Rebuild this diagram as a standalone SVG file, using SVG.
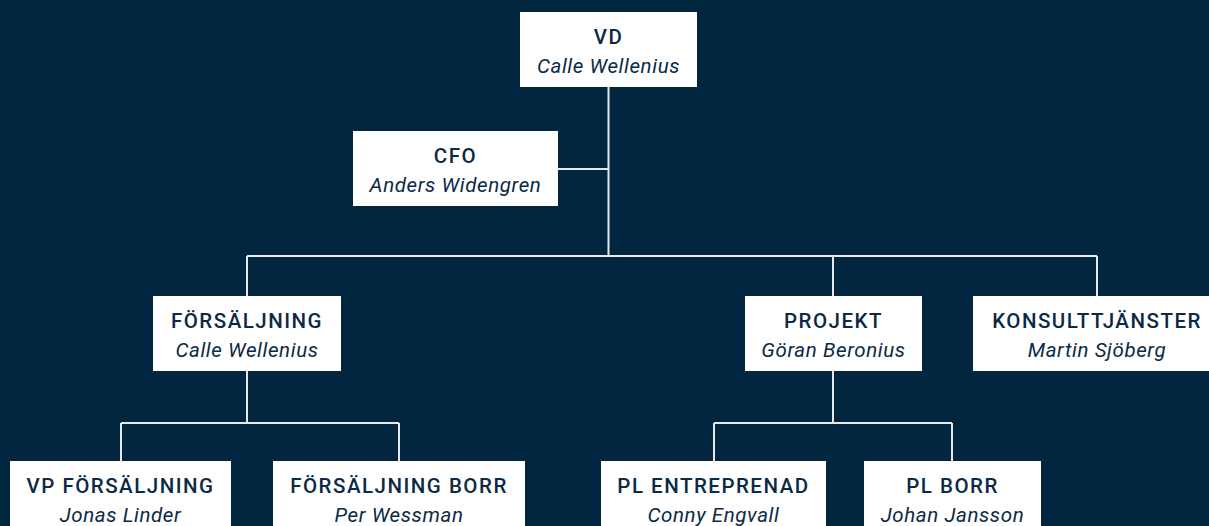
<svg xmlns="http://www.w3.org/2000/svg" width="1209" height="526" viewBox="0 0 1209 526">
<style>
.box{fill:#ffffff}
.t{font-family:Roboto,"Liberation Sans",sans-serif;font-weight:500;font-size:20.5px;letter-spacing:1.5px;fill:#0b2a45;text-anchor:middle}
.n{font-family:Roboto,"Liberation Sans",sans-serif;font-style:italic;font-size:20.5px;letter-spacing:0.6px;fill:#0b2a45;text-anchor:middle}
.c{fill:none;stroke:#e8e8e8;stroke-width:2}
</style>
<rect width="1209" height="526" fill="#022640"/>
<g id="connectors">
<path class="c" d="M608.5 87V256M558 169H608.5M247 256H1097M247 256V296M833 256V296M1097 256V296"/>
<path class="c" d="M247 371V423M121 423H399M121 423V461M399 423V461"/>
<path class="c" d="M833 371V423M714 423H952M714 423V461M952 423V461"/>
</g>
<g id="vd"><rect class="box" x="520" y="12" width="177" height="75"/><text class="t" x="608.5" y="44">VD</text><text class="n" x="608.5" y="72.5">Calle Wellenius</text></g>
<g id="cfo"><rect class="box" x="353" y="131" width="205" height="75"/><text class="t" x="455.5" y="163">CFO</text><text class="n" x="455.5" y="191.5">Anders Widengren</text></g>
<g id="forsaljning"><rect class="box" x="153" y="296" width="188" height="75"/><text class="t" x="247" y="328">FÖRSÄLJNING</text><text class="n" x="247" y="356.5">Calle Wellenius</text></g>
<g id="projekt"><rect class="box" x="745" y="296" width="177" height="75"/><text class="t" x="833.5" y="328">PROJEKT</text><text class="n" x="833.5" y="356.5">Göran Beronius</text></g>
<g id="konsult"><rect class="box" x="973" y="296" width="248" height="75"/><text class="t" x="1097" y="328">KONSULTTJÄNSTER</text><text class="n" x="1097" y="356.5">Martin Sjöberg</text></g>
<g id="vp-forsaljning"><rect class="box" x="10" y="461" width="221" height="75"/><text class="t" x="120.5" y="493">VP FÖRSÄLJNING</text><text class="n" x="120.5" y="521.5">Jonas Linder</text></g>
<g id="forsaljning-borr"><rect class="box" x="273" y="461" width="252" height="75"/><text class="t" x="399" y="493">FÖRSÄLJNING BORR</text><text class="n" x="399" y="521.5">Per Wessman</text></g>
<g id="pl-entreprenad"><rect class="box" x="601" y="461" width="225" height="75"/><text class="t" x="713.5" y="493">PL ENTREPRENAD</text><text class="n" x="713.5" y="521.5">Conny Engvall</text></g>
<g id="pl-borr"><rect class="box" x="864" y="461" width="177" height="75"/><text class="t" x="952.5" y="493">PL BORR</text><text class="n" x="952.5" y="521.5">Johan Jansson</text></g>
</svg>
